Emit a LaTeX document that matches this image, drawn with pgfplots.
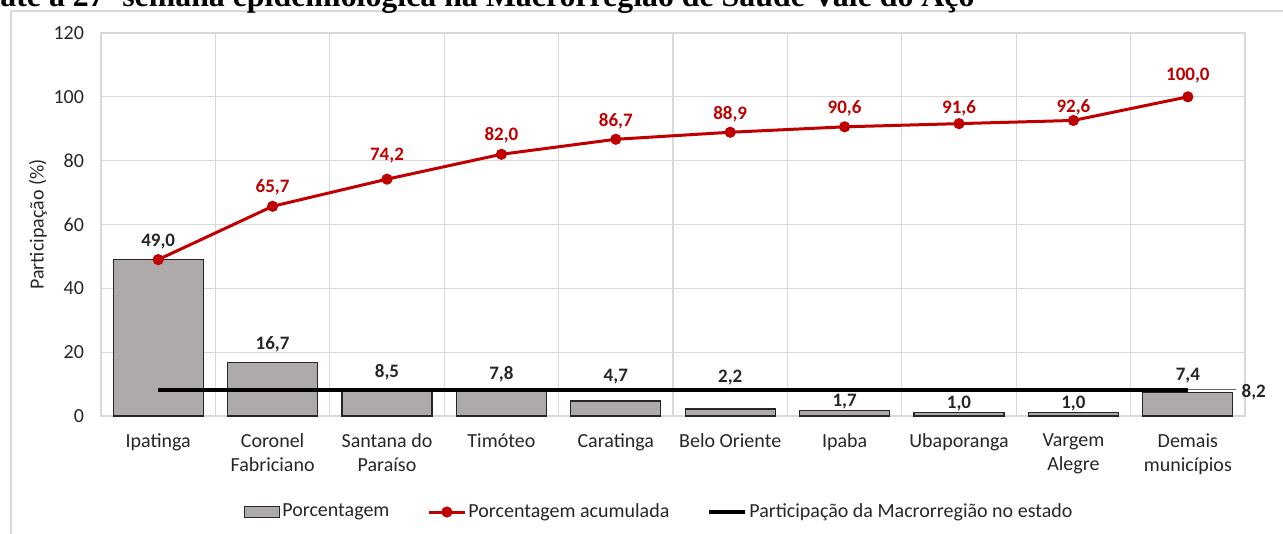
\documentclass[border=0pt]{standalone}
\usepackage{pgfplots}
\pgfplotsset{compat=1.18}
\usepackage{fontspec}
\setmainfont{Carlito}
\newfontfamily\titlefont{Liberation Serif}
\definecolor{bargray}{HTML}{AEAAAA}
\definecolor{gridgray}{HTML}{D9D9D9}
\definecolor{darkred}{HTML}{C00000}
\pgfplotsset{
  barlegend/.style={legend image code/.code={\draw[fill=bargray, draw=black!85, line width=0.6pt] (0pt,-2.7pt) rectangle (17.5pt,2.7pt);}},
  marklegend/.style={legend image code/.code={\draw[##1, mark repeat=2, mark phase=2] plot coordinates {(0pt,0pt) (9pt,0pt) (18pt,0pt)};}},
  linelegend/.style={legend image code/.code={\draw[##1] (0pt,0pt) -- (18pt,0pt);}},
  lbl/.style={draw=none, forget plot, point meta=explicit symbolic, nodes near coords,
    nodes near coords style={anchor=center, inner sep=0pt, font=\bfseries\fontsize{9.5}{11}\selectfont, text=#1}},
}
\begin{document}
\begin{tikzpicture}
\useasboundingbox (0,0) rectangle (641.5pt,267pt);
\draw[gridgray, line width=0.8pt] (5.5pt,-2pt) -- (5.5pt,261.5pt) -- (645pt,261.5pt);
\node[anchor=base west, inner sep=0pt] at (0pt,263.5pt) {\resizebox{487pt}{!}{\titlefont\bfseries\fontsize{12}{14}\selectfont até a 27ª semana epidemiológica na Macrorregião de Saúde Vale do Aço}};
\begin{axis}[
  at={(50.5pt,59pt)}, anchor=south west,
  scale only axis, width=572pt, height=191.5pt,
  xmin=-0.5, xmax=9.5, ymin=0, ymax=120,
  ytick={0,20,40,60,80,100,120},
  xtick={0,1,2,3,4,5,6,7,8,9},
  xticklabels={Ipatinga, Coronel\\Fabriciano, Santana do\\Paraíso, Timóteo, Caratinga, Belo Oriente, Ipaba, Ubaporanga, Vargem\\Alegre, Demais\\municípios},
  minor xtick={0.5,1.5,2.5,3.5,4.5,5.5,6.5,7.5,8.5},
  ymajorgrids, xminorgrids,
  grid style={gridgray, line width=0.6pt},
  minor grid style={gridgray, line width=0.6pt},
  axis line style={gridgray, line width=0.6pt},
  tick style={draw=none},
  /pgf/number format/assume math mode=true,
  /pgf/number format/.cd, use comma, fixed, fixed zerofill, precision=1, 1000 sep={},
  /pgfplots/.cd,
  yticklabel={\pgfmathprintnumber[fixed, precision=0]{\tick}},
  tick label style={font=\fontsize{10}{12}\selectfont, text=black!85},
  xticklabel style={align=center, yshift=-5.5pt},
  yticklabel style={xshift=-5pt},
  ylabel={Participação (\%)},
  every axis y label/.style={at={(axis description cs:-0.0551,0.5)}, rotate=90, anchor=center, font=\fontsize{10}{12}\selectfont, text=black!85},
  clip=false,
  legend columns=3,
  legend style={at={(0.488,-0.2507)}, anchor=center, draw=none, fill=none,
    font=\fontsize{10}{12}\selectfont, text=black!85, inner sep=0pt,
    /tikz/every even column/.style={column sep=18pt},
    nodes={inner sep=1pt}},
  legend cell align=left,
]
\addplot[ybar, bar width=45pt, fill=bargray, draw=black!85, line width=0.6pt, barlegend]
coordinates {(0,49.0) (1,16.7) (2,8.5) (3,7.8) (4,4.7) (5,2.2) (6,1.7) (7,1.0) (8,1.0) (9,7.4)};
\addlegendentry{Porcentagem}
\addplot[darkred, line width=1.5pt, mark=*, mark size=2pt, marklegend]
coordinates {(0,49.0) (1,65.7) (2,74.2) (3,82.0) (4,86.7) (5,88.9) (6,90.6) (7,91.6) (8,92.6) (9,100.0)};
\addlegendentry{Porcentagem acumulada}
\addplot[black, line width=2pt, linelegend]
coordinates {(0,8.2) (9,8.2)};
\addlegendentry{Participação da Macrorregião no estado}
\addplot[black!60, line width=0.5pt, forget plot] coordinates {(9,8.2) (9.42,8.2)};
% data labels of the bars
\addplot[lbl=black!85] coordinates {(0,54.5) [49,0] (1,22.6) [16,7] (2,13.8) [8,5] (3,13.2) [7,8] (4,12.2) [4,7] (5,11.9) [2,2] (6,4.4) [1,7] (7,3.8) [1,0] (8,3.8) [1,0] (9,12.5) [7,4]};
% data labels of the cumulative line
\addplot[lbl=darkred] coordinates {(1,71.7) [65,7] (2,81.5) [74,2] (3,88.0) [82,0] (4,92.4) [86,7] (5,94.6) [88,9] (6,96.5) [90,6] (7,96.5) [91,6] (8,96.6) [92,6] (9,106.8) [100,0]};
\node[anchor=west, font=\bfseries\fontsize{9.5}{11}\selectfont, text=black!85, inner sep=1pt] at (axis cs:9.45,7.5) {8,2};
\end{axis}
\end{tikzpicture}
\end{document}
